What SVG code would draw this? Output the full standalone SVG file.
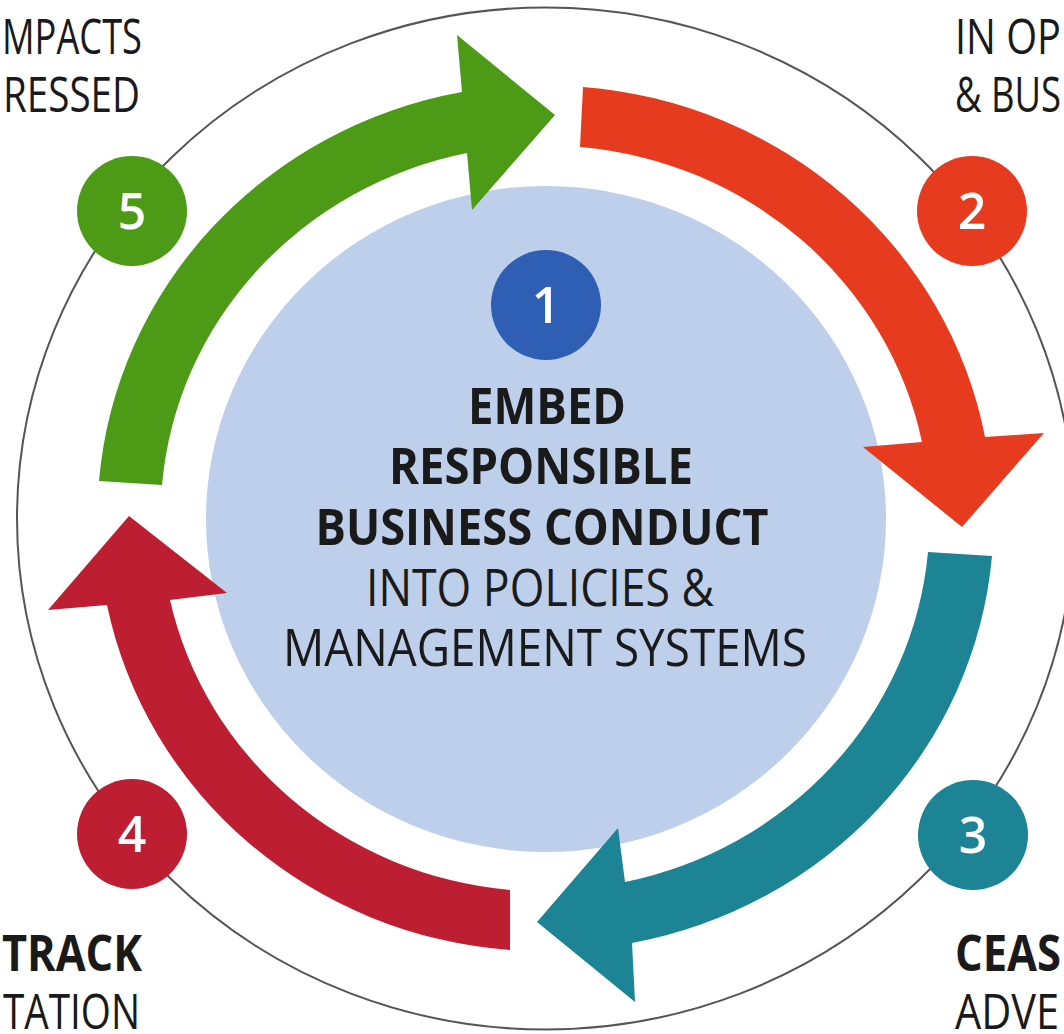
<svg xmlns="http://www.w3.org/2000/svg" width="1064" height="1034" viewBox="0 0 1064 1034">
<style>
.t{font-family:"Open Sans","Noto Sans","Liberation Sans",sans-serif;fill:#1a1a1a;font-size:51px}
.c{font-family:"Open Sans","Noto Sans","Liberation Sans",sans-serif;fill:#1a1a1a;font-size:50px}
.b{font-weight:700}
.r{font-weight:400}
.num{font-family:"Open Sans","Noto Sans","Liberation Sans",sans-serif;font-weight:600;font-size:50px;fill:#ffffff;text-anchor:middle}
.ring{fill:none;stroke:#555555;stroke-width:2}
</style>
<rect width="1064" height="1034" fill="#ffffff"/>
<ellipse class="ring" cx="545.5" cy="518.5" rx="528.5" ry="511"/>
<g id="center">
<ellipse cx="546" cy="519" rx="340" ry="333" fill="#BDCFEA"/>
<g id="badge1">
<circle cx="546" cy="305" r="55" fill="#2F5EB5"/>
<text class="num" x="546" y="323">1</text>
</g>
<text class="t b" x="547" y="424" text-anchor="middle" textLength="158" lengthAdjust="spacingAndGlyphs">EMBED</text>
<text class="t b" x="541" y="484" text-anchor="middle" textLength="304" lengthAdjust="spacingAndGlyphs">RESPONSIBLE</text>
<text class="t b" x="542" y="545" text-anchor="middle" textLength="453" lengthAdjust="spacingAndGlyphs">BUSINESS CONDUCT</text>
<text class="t r" x="540" y="606" text-anchor="middle" textLength="348" lengthAdjust="spacingAndGlyphs">INTO POLICIES &amp;</text>
<text class="t r" x="545" y="666" text-anchor="middle" textLength="524" lengthAdjust="spacingAndGlyphs">MANAGEMENT SYSTEMS</text>
</g>
<g id="connectors">
<path id="arrow5" fill="#4C9A16" d="M99,481 A446,432 0 0 1 462,92 L457,35 L555,115 L472,210 L467,153 A384,371 0 0 0 162,485 Z"/>
<path id="arrow2" fill="#E63B1F" d="M583,87 A446,432 0 0 1 985,437 L1044,433 L962,527 L863,447 L922,442 A384,371 0 0 0 580,147 Z"/>
<path id="arrow3" fill="#1C8494" d="M992,556 A446,432 0 0 1 632,943 L635,1002 L537,922 L618,828 L625,882 A384,371 0 0 0 928,552 Z"/>
<path id="arrow4" fill="#BD1E32" d="M510,950 A446,432 0 0 1 107,605 L48,610 L129,516 L227,593 L170,600 A384,371 0 0 0 510,890 Z"/>
</g>
<g id="step2">
<circle cx="972" cy="211" r="55" fill="#E63B1F"/>
<text class="num" x="972" y="229">2</text>
<text class="c r" x="955" y="54" textLength="106" lengthAdjust="spacingAndGlyphs">IN OP</text>
<text class="c r" x="955" y="112" textLength="106" lengthAdjust="spacingAndGlyphs">&amp; BUS</text>
</g>
<g id="step3">
<circle cx="973" cy="835" r="55" fill="#1C8494"/>
<text class="num" x="973" y="853">3</text>
<text class="c b" x="955" y="971" textLength="106" lengthAdjust="spacingAndGlyphs">CEAS</text>
<text class="c r" x="955" y="1029" textLength="104" lengthAdjust="spacingAndGlyphs">ADVE</text>
</g>
<g id="step4">
<circle cx="132" cy="834" r="55" fill="#BD1E32"/>
<text class="num" x="132" y="852">4</text>
<text class="c b" x="142" y="971" text-anchor="end" textLength="140" lengthAdjust="spacingAndGlyphs">TRACK</text>
<text class="c r" x="140" y="1029" text-anchor="end" textLength="137" lengthAdjust="spacingAndGlyphs">TATION</text>
</g>
<g id="step5">
<circle cx="132" cy="211" r="55" fill="#4C9A16"/>
<text class="num" x="132" y="229">5</text>
<text class="c r" x="142" y="54" text-anchor="end" textLength="140" lengthAdjust="spacingAndGlyphs">MPACTS</text>
<text class="c r" x="140" y="112" text-anchor="end" textLength="137" lengthAdjust="spacingAndGlyphs">RESSED</text>
</g>
</svg>
